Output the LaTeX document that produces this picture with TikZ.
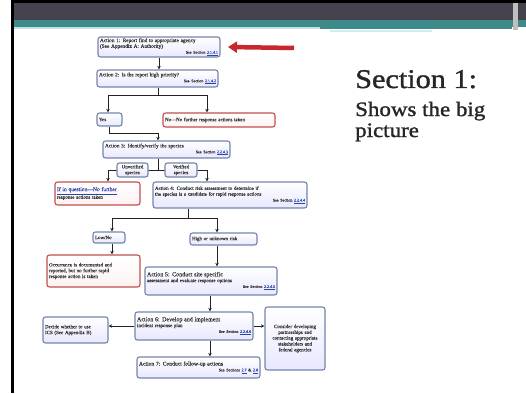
\documentclass[tikz,border=0pt]{standalone}
\usepackage{fontspec}
\setmainfont{Liberation Serif}
\newfontfamily\slidefont[FakeStretch=1.12,FakeBold=1.3]{Liberation Serif}
\newfontfamily\boxfont[FakeBold=0.15]{Liberation Serif}
\usetikzlibrary{arrows.meta,calc}
\definecolor{bandDark}{HTML}{46434F}
\definecolor{bandTeal}{HTML}{3E8A8B}
\definecolor{bandLight}{HTML}{BFE2E2}
\definecolor{boxBlue}{HTML}{7386AA}
\definecolor{boxRed}{HTML}{C0504D}
\definecolor{linkBlue}{HTML}{2A45A8}
\definecolor{arrowRed}{HTML}{C8282D}
\definecolor{lineGray}{HTML}{222222}
\newcommand\lnk[1]{\textcolor{linkBlue}{\underline{#1}}}
\newcommand\seeline[1]{\par\makebox[\linewidth][r]{\fontsize{4}{4.6}\selectfont #1}}
\newcommand\bx[7]{%
  \pgfmathsetmacro\bw{#5-#3}\pgfmathsetmacro\bh{#6-#4}%
  \pgfmathsetmacro\tw{#5-#3-4}%
  \pgfmathsetmacro\cx{(#3+#5)/2}\pgfmathsetmacro\cy{(#4+#6)/2}%
  \node[#2, minimum width=\bw pt, minimum height=\bh pt, text width=\tw pt] (#1) at (\cx,\cy) {#7};}
\tikzset{
  abox/.style={draw=boxBlue, line width=1.1pt, rounded corners=2.5pt, top color=white, bottom color=blue!9,
    inner xsep=2pt, inner ysep=1pt, align=left, text=black!80, font=\boxfont\fontsize{5}{5.8}\selectfont},
  rbox/.style={abox, draw=boxRed, top color=white, bottom color=red!5},
  lbox/.style={abox, align=center, fill=white},
  conn/.style={draw=lineGray, line width=1pt},
  arr/.style={conn, -{Stealth[length=3.6pt,width=3.4pt]}},
  sect/.style={anchor=base west, inner sep=0pt, text=black!85}
}
\begin{document}
\begin{tikzpicture}[x=1pt,y=-1pt]
\useasboundingbox (0,0) rectangle (526,393);
% slide frame and banner
\fill[white] (0,0) rectangle (526,393);
\fill[black] (11,0) rectangle (526,3);
\fill[bandDark] (11,3) rectangle (526,20);
\fill[bandTeal] (11,20) rectangle (526,27);
\fill[bandLight] (11,27) rectangle (320,29);
\fill[bandTeal] (320,27) rectangle (512,29.5);
\fill[bandLight!70!white] (330,30) rectangle (432,32);
\fill[black!25] (513,3) rectangle (518,30);
\fill[black] (11,0) rectangle (14,393);

% boxes
\bx{a1}{abox}{98}{37}{220}{57}{{\fontsize{5.3}{6}\selectfont Action 1: Report find to appropriate agency\\(See Appendix A: Authority)}\seeline{See Section \lnk{2.1.4.1}}}
\bx{a2}{abox}{97}{70}{218}{87}{{\fontsize{5.3}{6}\selectfont Action 2: Is the report high priority?}\seeline{See Section \lnk{2.1.4.2}}}
\bx{yes}{abox}{97}{113}{122}{126}{\centering Yes}
\bx{no}{rbox}{163}{113}{275}{127}{\centering No---No further response actions taken}
\bx{a3}{abox}{103}{141}{230}{158}{{\fontsize{5.3}{6}\selectfont Action 3: Identify/verify the species}\seeline{See Section \lnk{2.2.4.3}}}
\bx{q}{rbox}{55}{182}{140}{205}{{\fontsize{5.6}{6.6}\selectfont\lnk{If in question---No further}}\\response actions taken}
\bx{a4}{abox}{153}{182}{307}{208}{Action 4: Conduct risk assessment to determine if\\the species is a candidate for rapid response actions\seeline{See Section \lnk{2.2.4.4}}}
\bx{low}{abox}{93}{232}{125}{243}{\centering Low/No}
\bx{high}{abox}{190}{233}{257}{245}{\centering High or unknown risk}
\bx{occ}{rbox}{47}{255}{140}{287}{Occurrence is documented and\\reported, but no further rapid\\response action is taken}
\bx{a5}{abox}{145}{267}{277}{295}{{\fontsize{6}{7}\selectfont Action 5: Conduct site specific}\\assessment and evaluate response options\seeline{See Section \lnk{2.2.4.5}}}
\bx{a6}{abox}{135}{312}{253}{340}{{\fontsize{6}{7}\selectfont Action 6: Develop and implement}\\incident response plan\seeline{See Section \lnk{2.2.4.6}}}
\bx{ics}{abox}{43}{317}{108}{343}{Decide whether to use\\ICS (See Appendix B)}
\bx{cons}{lbox}{265}{307}{325}{370}{Consider developing\\partnerships and\\contacting appropriate\\stakeholders and\\federal agencies}
\bx{a7}{abox}{137}{357}{260}{378}{{\fontsize{5.6}{6.4}\selectfont Action 7: Conduct follow-up actions}\seeline{See Sections \lnk{2.7} \& \lnk{2.8}}}

% connectors
\draw[arr] (a1.south) -- (a1.south |- a2.north);
\draw[conn] ([xshift=0.5]a2.south) -- ++(0,8) coordinate (j2);
\draw[arr] (j2) -| ([xshift=-1.5]yes.north);
\draw[arr] (j2) -| ([xshift=-12]no.north);
\draw[arr] (yes.south) -- ++(0,7) -| ([xshift=-8.5]a3.north);
\draw[conn] ([xshift=-8.5]a3.south) -- ++(0,12) coordinate (j3);
\draw[arr] (j3) -| ([xshift=10.5]q.north);
\draw[arr] (j3) -| ([xshift=-23]a4.north);
\draw[conn] ([xshift=-42]a4.south) -- ++(0,10) coordinate (j4);
\draw[arr] (j4) -| ([xshift=3]low.north);
\draw[arr] (j4) -| ([xshift=-6.5]high.north);
\draw[arr] ([xshift=3]low.south) -- ([xshift=3]low.south |- occ.north);
\draw[arr] ([xshift=-6.5]high.south) -- ([xshift=-6.5]high.south |- a5.north);
\draw[arr] ([xshift=-1]a5.south) -- ([xshift=-1]a5.south |- a6.north);
\draw[arr] (a6.west) -- (a6.west -| ics.east);
\draw[arr] (a6.east) -- (a6.east -| cons.west);
\draw[arr] ([xshift=16]a6.south) -- ([xshift=16]a6.south |- a7.north);

% branch labels over the lines
\bx{unv}{lbox}{117}{163}{148}{177}{Unverified\\species}
\bx{ver}{lbox}{165}{163}{197}{177}{Verified\\species}

% red pointer arrow
\coordinate (ptail) at (294,48);
\draw[arrowRed, line width=4.5pt, -{Triangle[length=9pt,width=11pt]}] (ptail) -- (a1.east -| 228,0);

% section text
\node[sect, font=\slidefont\fontsize{27}{30}\selectfont] (s1) at (355,88) {Section 1:};
\node[sect, font=\slidefont\fontsize{20.5}{24}\selectfont] (s2) at (355,116) {Shows the big};
\node[sect, font=\slidefont\fontsize{20.5}{24}\selectfont] (s3) at (355,137) {picture};
\end{tikzpicture}
\end{document}
